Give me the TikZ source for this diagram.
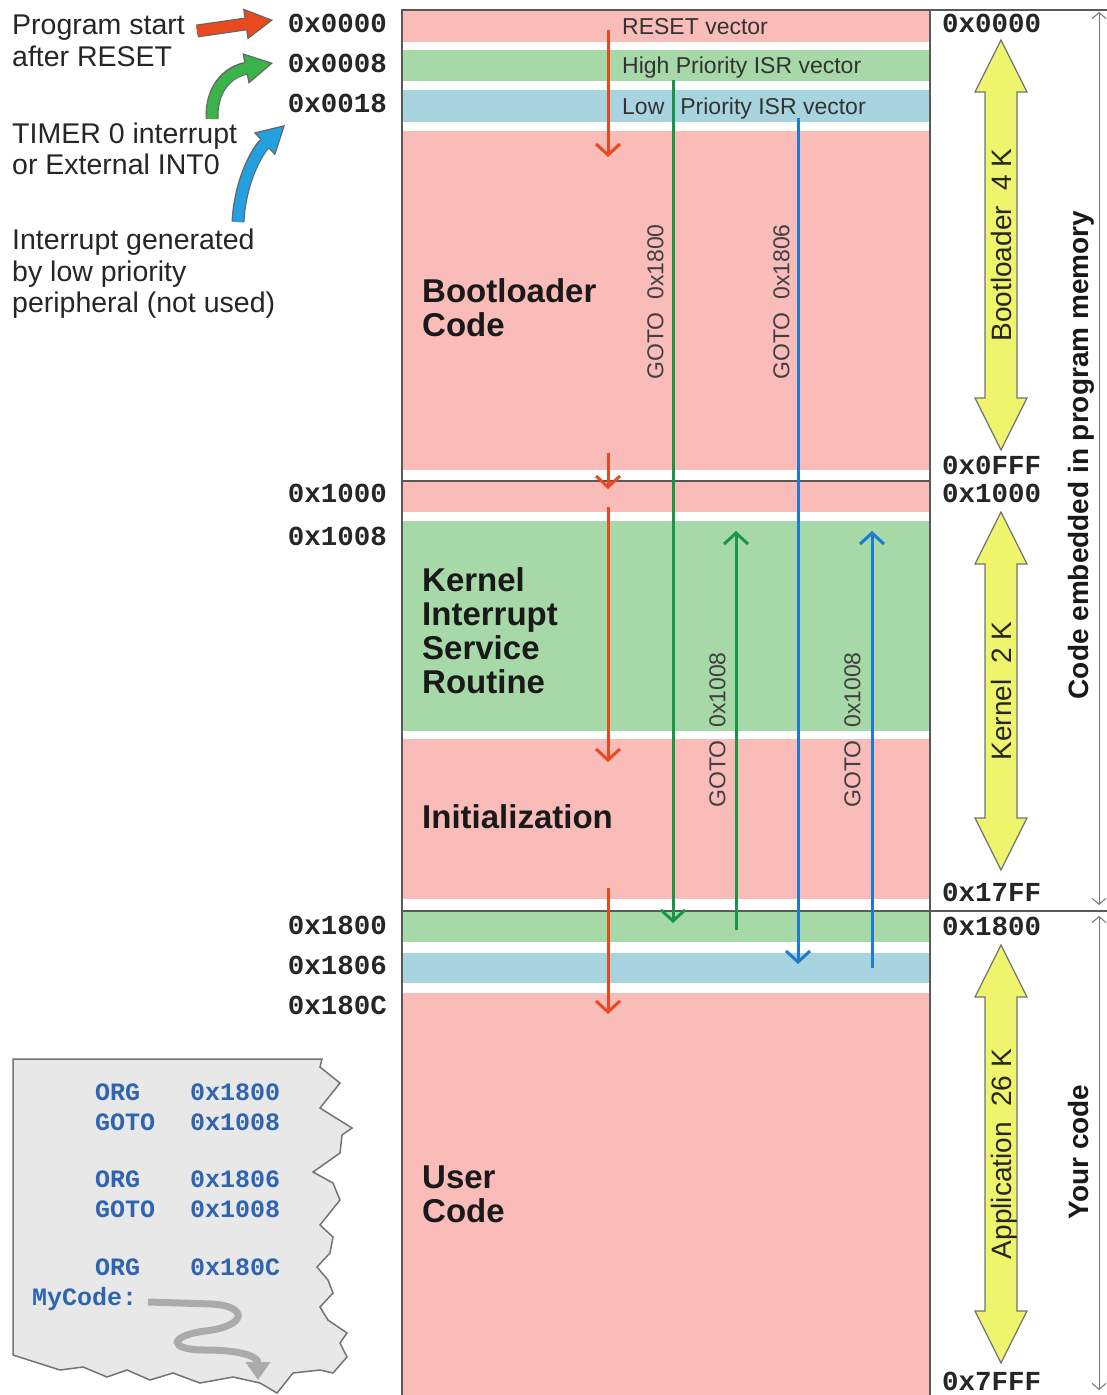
\documentclass[tikz,border=0pt]{standalone}
\usepackage{fontspec}
\setmainfont{Liberation Sans}
\setmonofont{Liberation Mono}
\usetikzlibrary{arrows.meta, positioning}

\definecolor{memPink}{RGB}{249,188,184}
\definecolor{memGreen}{RGB}{166,216,168}
\definecolor{memBlue}{RGB}{168,212,224}
\definecolor{arrRed}{RGB}{232,74,30}
\definecolor{arrGreen}{RGB}{24,150,72}
\definecolor{arrBlue}{RGB}{30,122,210}
\definecolor{fatGreen}{RGB}{58,180,74}
\definecolor{fatBlue}{RGB}{36,160,224}
\definecolor{sizeYellow}{RGB}{238,244,108}
\definecolor{codeBlue}{RGB}{46,100,176}
\definecolor{panelGray}{RGB}{232,232,232}

\tikzset{
  frameline/.style={draw=black!65, line width=1.5pt},
  hexlabel/.style={font=\fontsize{27.5}{30}\selectfont\ttfamily\bfseries, text=black!85, inner sep=0pt, text height=17pt, text depth=0pt},
  sidenote/.style={font=\fontsize{28.5}{31.5}\selectfont, align=left, text=black!85, inner sep=0pt, anchor=west},
  bandlabel/.style={font=\fontsize{23}{26}\selectfont, text=black!80, inner sep=0pt, anchor=west, text height=16.5pt, text depth=0pt},
  blocklabel/.style={font=\fontsize{33}{34}\selectfont\bfseries, align=left, text=black!90, inner sep=0pt, anchor=west},
  gotolabel/.style={font=\fontsize{23}{26}\selectfont, text=black!75, rotate=90, inner sep=0pt, text height=16.5pt, text depth=0pt},
  sizebody/.style={fill=sizeYellow, draw=black!55, line width=1.2pt},
  sizetext/.style={font=\fontsize{28}{30}\selectfont, text=black!85, rotate=90, inner sep=0pt, text height=20pt, text depth=0pt},
  spantext/.style={font=\fontsize{28}{30}\selectfont\bfseries, text=black!90, rotate=90, inner sep=0pt, text height=20pt, text depth=0pt},
  spanarrow/.style={draw=black!55, line width=1pt, {Straight Barb[length=6pt,width=14pt]}-{Straight Barb[length=6pt,width=14pt]}},
  flow/.style={line width=3pt, -{Straight Barb[length=11pt,width=24pt]}},
  fatarrow/.style={line width=13pt, draw=black!60, -{Triangle[length=28pt,width=31pt,line width=1.2pt,fill=#1]},
    postaction={draw=#1, line width=10.5pt, -, shorten >=25pt}},
  codetext/.style={font=\fontsize{25}{28}\selectfont\ttfamily\bfseries, text=codeBlue, anchor=west, inner sep=0pt, text height=15.7pt, text depth=0pt},
  panel/.style={fill=panelGray, draw=black!55, line width=1.5pt},
  squiggle/.style={line width=7pt, draw=black!33, -{Triangle[length=18pt,width=24pt]}}
}

% yellow double arrow with its size text
\newcommand{\sizearrow}[5]{%
  \filldraw[sizebody] (#2,#3) -- ++(26,52) -- ++(-10,0) -- (#2+16,#4-52) -- ++(10,0) -- (#2,#4)
    -- ++(-26,-52) -- ++(10,0) -- (#2-16,#3+52) -- ++(-10,0) -- cycle;
  \node[sizetext] (#1) at (#2,{(#3+#4)/2}) {#5};
}

\begin{document}
\begin{tikzpicture}[x=1pt, y=-1pt]
\useasboundingbox (0,0) rectangle (1107,1395);

% memory bands
\foreach \ya/\yb/\shade in {10/42/memPink, 50/81/memGreen, 90/122/memBlue, 131/470/memPink,
    481/512/memPink, 521/731/memGreen, 739/899/memPink, 911/942/memGreen, 953/983/memBlue, 993/1395/memPink}
  \fill[\shade] (402,\ya) rectangle (930,\yb);

% frame
\draw[frameline] (402,1395) -- (402,10) -- (1107,10);
\draw[frameline] (930,10) -- (930,1395);
\draw[frameline] (402,481) -- (930,481);
\draw[frameline] (402,911) -- (1107,911);

% vector labels
\node[bandlabel] (resetVec) at (622,26) {RESET vector};
\node[bandlabel] (highVec) at (622,65) {High Priority ISR vector};
\node[bandlabel] (lowVec) at (622,106) {Low\hspace{16pt}Priority ISR vector};

% block labels
\node[blocklabel] (bootCode) at (422,308) {Bootloader\\Code};
\node[blocklabel] (kernelIsr) at (422,631) {Kernel\\Interrupt\\Service\\Routine};
\node[blocklabel] (initCode) at (422,817) {Initialization};
\node[blocklabel] (userCode) at (422,1194) {User\\Code};

% goto labels
\node[gotolabel] (gotoHigh) at (655,302) {GOTO~~0x1800};
\node[gotolabel] (gotoLow) at (781,302) {GOTO~~0x1806};
\node[gotolabel] (backHigh) at (717,730) {GOTO~~0x1008};
\node[gotolabel] (backLow) at (852,730) {GOTO~~0x1008};

% program flow
\foreach \n/\ya/\yb in {1/30/157, 2/453/489, 3/507/762, 4/888/1014} {
  \coordinate (red\n-a) at (608,\ya);
  \coordinate (red\n-b) at (608,\yb);
  \draw[flow, arrRed] (red\n-a) -- (red\n-b);
}
\coordinate (highJump-a) at (673,80);
\coordinate (highJump-b) at (673,923);
\coordinate (highBack-a) at (736,930);
\coordinate (highBack-b) at (736,531);
\coordinate (lowJump-a) at (798,118);
\coordinate (lowJump-b) at (798,964);
\coordinate (lowBack-a) at (872,968);
\coordinate (lowBack-b) at (872,531);
\draw[flow, arrGreen] (highJump-a) -- (highJump-b);
\draw[flow, arrGreen] (highBack-a) -- (highBack-b);
\draw[flow, arrBlue] (lowJump-a) -- (lowJump-b);
\draw[flow, arrBlue] (lowBack-a) -- (lowBack-b);

% address labels
\node[hexlabel, anchor=east] (lAddr0000) at (387,24) {0x0000};
\node[hexlabel, anchor=east] (lAddr0008) at (387,64) {0x0008};
\node[hexlabel, anchor=east] (lAddr0018) at (387,104) {0x0018};
\node[hexlabel, anchor=east] (lAddr1000) at (387,494) {0x1000};
\node[hexlabel, anchor=east] (lAddr1008) at (387,537) {0x1008};
\node[hexlabel, anchor=east] (lAddr1800) at (387,926) {0x1800};
\node[hexlabel, anchor=east] (lAddr1806) at (387,966) {0x1806};
\node[hexlabel, anchor=east] (lAddr180C) at (387,1006) {0x180C};

\node[hexlabel, anchor=west] (rAddr0000) at (942,24) {0x0000};
\node[hexlabel, anchor=west] (rAddr0FFF) at (942,466) {0x0FFF};
\node[hexlabel, anchor=west] (rAddr1000) at (942,494) {0x1000};
\node[hexlabel, anchor=west] (rAddr17FF) at (942,893) {0x17FF};
\node[hexlabel, anchor=west] (rAddr1800) at (942,927) {0x1800};
\node[hexlabel, anchor=west] (rAddr7FFF) at (942,1382) {0x7FFF};

% section sizes
\sizearrow{bootSize}{1001}{40}{450}{Bootloader~~4 K}
\sizearrow{kernelSize}{1001}{512}{870}{Kernel~~2 K}
\sizearrow{appSize}{1001}{945}{1363}{Application~~26 K}

\coordinate (embedTop) at (1099,12);
\coordinate (embedBot) at (1099,905);
\coordinate (yoursTop) at (1099,916);
\coordinate (yoursBot) at (1099,1390);
\draw[spanarrow] (embedTop) -- (embedBot);
\draw[spanarrow] (yoursTop) -- (yoursBot);
\node[spantext] (embedLbl) at (1078,455) {Code embedded in program memory};
\node[spantext] (yoursLbl) at (1078,1152) {Your code};

% entry notes
\node[sidenote] (progStart) at (12,41) {Program start\\after RESET};
\node[sidenote] (timerNote) at (12,149) {TIMER 0 interrupt\\or External INT0};
\node[sidenote] (lowNote) at (12,274) {Interrupt generated\\by low priority\\peripheral (not used)};

\coordinate (redTail) at (197,31);
\coordinate (redTip) at (273,20);
\coordinate (greenTail) at (212,119);
\coordinate (greenTip) at (273,63);
\coordinate (blueTail) at (238,222);
\coordinate (blueTip) at (285,125);
\draw[fatarrow=arrRed] (redTail) -- (redTip);
\draw[fatarrow=fatGreen] (greenTail) .. controls (211,88) and (228,72) .. (greenTip);
\draw[fatarrow=fatBlue] (blueTail) .. controls (240,180) and (258,150) .. (blueTip);

% code snippet
\filldraw[panel] (13,1059) -- (322,1059) -- (320,1067) -- (340,1083) -- (320,1108) -- (352,1128)
  -- (342,1135) -- (340,1153) -- (313,1172) -- (333,1183) -- (340,1200) -- (320,1225) -- (333,1237)
  -- (330,1253) -- (317,1267) -- (328,1280) -- (333,1293) -- (320,1307) -- (328,1320) -- (347,1333)
  -- (340,1343) -- (347,1357) -- (333,1373) -- (320,1370) -- (293,1373) -- (277,1393) -- (260,1383)
  -- (233,1377) -- (200,1383) -- (173,1373) -- (150,1380) -- (127,1370) -- (107,1377) -- (83,1367)
  -- (60,1370) -- (13,1355) -- cycle;
\foreach \op/\arg/\y in {ORG/0x1800/1093, GOTO/0x1008/1123, ORG/0x1806/1180, GOTO/0x1008/1210, ORG/0x180C/1268} {
  \node[codetext] (op\y) at (95,\y) {\op};
  \node[codetext] (arg\y) at (190,\y) {\arg};
}
\node[codetext] (myCode) at (32,1298) {MyCode:};
\coordinate (wiggleStart) at (148,1302);
\coordinate (wiggleEnd) at (258,1380);
\draw[squiggle] (wiggleStart) -- (212,1304) .. controls (248,1306) and (248,1326) .. (205,1331)
  .. controls (168,1336) and (168,1350) .. (205,1350) .. controls (240,1350) and (258,1356) .. (wiggleEnd);
\end{tikzpicture}
\end{document}
